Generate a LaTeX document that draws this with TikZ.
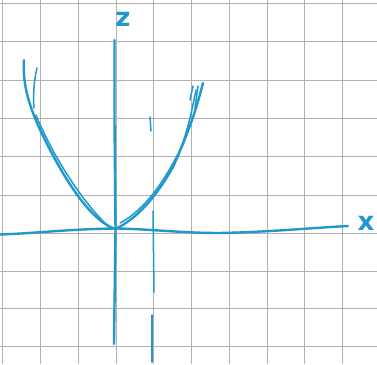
\documentclass[tikz,border=0pt]{standalone}
\usepackage{fontspec}
\setsansfont{DejaVu Sans}
\definecolor{pen}{RGB}{32,152,205}
\definecolor{gridc}{RGB}{178,178,182}
\tikzset{
  gridline/.style={draw=gridc, line width=1pt},
  penline/.style={draw=pen, line width=2.4pt, line cap=round, line join=round},
  thinpen/.style={draw=pen, line width=1.5pt, line cap=round, line join=round},
  lbl/.style={text=pen, font=\sffamily\bfseries\fontsize{26}{26}\selectfont, inner sep=0pt}
}
\begin{document}
\begin{tikzpicture}[x=1pt,y=-1pt]
\useasboundingbox (0,0) rectangle (377,364);
\fill[white] (0,0) rectangle (377,364);
% grid
\foreach \gx in {2.5,40.5,78.5,116.5,153.5,191.5,229.5,267.5,304.5,342.5} {
  \draw[gridline] (\gx,0) -- (\gx,364);
}
\foreach \gy in {3.5,41.5,80.5,118.5,156.5,195.5,233.5,271.5,308.5,346.5} {
  \draw[gridline] (0,\gy) -- (377,\gy);
}
% axes
\coordinate (ztop) at (114.5,40);
\coordinate (zbot) at (114,344);
\draw[penline] (ztop) -- (114.5,120) -- (115.5,230) -- (zbot);
\coordinate (xl) at (0,234.5);
\coordinate (xr) at (348,226);
\draw[penline] (xl) .. controls (40,233) and (70,229) .. (116,228.5)
  .. controls (150,229) and (180,233) .. (220,233)
  .. controls (270,232) and (310,228) .. (xr);
\node[lbl] (zlabel) at (123,19) {z};
\node[lbl] (xlabel) at (366,223) {x};
% parabola strokes
\coordinate (vtx) at (115,229);
\draw[penline] (24,60) .. controls (22,85) and (30,110) .. (45,140)
  .. controls (65,180) and (90,220) .. (vtx);
\draw[thinpen] (36,115) .. controls (50,150) and (80,200) .. (108,226);
\draw[penline] (vtx) .. controls (140,218) and (160,190) .. (173,167)
  .. controls (185,140) and (195,115) .. (203,83);
\draw[thinpen] (120,223) .. controls (145,210) and (165,180) .. (180,150)
  .. controls (188,130) and (192,110) .. (196,90);
\draw[thinpen] (190,100) -- (193,86);
\draw[thinpen] (198,86) -- (195,108);
% extra marks
\draw[thinpen] (37,68) .. controls (34,80) and (33,95) .. (34,108);
\draw[thinpen] (150,117) -- (151,131);
\draw[thinpen] (153,211) -- (154,292);
\draw[thinpen] (152,315) -- (152,362);
\end{tikzpicture}
\end{document}
